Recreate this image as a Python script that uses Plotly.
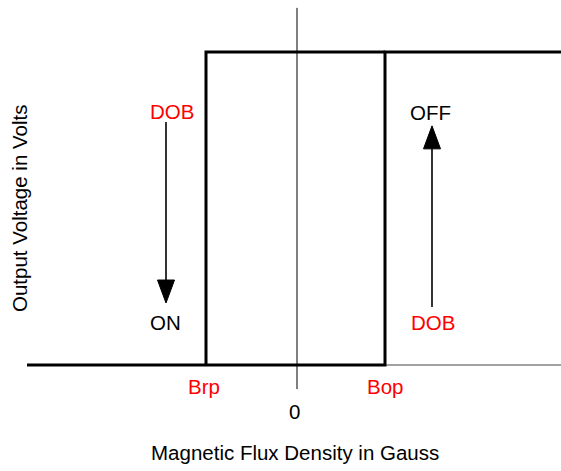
import plotly.graph_objects as go

# Data (x in gauss-like units, y in relative volts)
B_min, B_max = -270, 264
Brp, Bop = -91, 88
V_low, V_high = 0.0, 1.0

loop_x = [B_min, Bop, Bop, B_max, None, Brp, Brp, Bop]
loop_y = [V_low, V_low, V_high, V_high, None, V_low, V_high, V_high]

axis_v_span = [-0.077, 1.141]

# arrows: (x, y_start, y_tip)
arrows = [(-131, 0.776, 0.198), (135, 0.185, 0.764)]

labels = [
    ("DOB", -125, 0.811, "#FF0000"),
    ("ON", -132, 0.137, "#000000"),
    ("OFF", 133, 0.808, "#000000"),
    ("DOB", 135.5, 0.137, "#FF0000"),
    ("Brp", -93.5, -0.070, "#FF0000"),
    ("Bop", 88, -0.070, "#FF0000"),
    ("0", -3, -0.150, "#000000"),
]
x_title = "Magnetic Flux Density in Gauss"
y_title = "Output Voltage in Volts"

W, H = 561, 471
x0_px, y0_px, yscale = 297, 365, 313
x_range = [-x0_px, W - x0_px]
y_range = [(y0_px - H) / yscale, y0_px / yscale]

fig = go.Figure()
FONT = "Liberation Sans, Arial, sans-serif"
FS = 20.5

# thin axes
fig.add_trace(go.Scatter(x=[B_min, B_max], y=[0, 0], mode="lines",
                         line=dict(color="#444444", width=1), hoverinfo="skip"))
fig.add_trace(go.Scatter(x=[0, 0], y=axis_v_span, mode="lines",
                         line=dict(color="#000000", width=1), hoverinfo="skip"))
# hysteresis loop
fig.add_trace(go.Scatter(x=loop_x, y=loop_y, mode="lines",
                         line=dict(color="#000000", width=3), hoverinfo="skip"))

head_len = 23 / yscale
head_half = 8.5
for ax_, ys, yt in arrows:
    d = 1 if yt > ys else -1
    base = yt - d * head_len
    fig.add_trace(go.Scatter(x=[ax_, ax_], y=[ys, base], mode="lines",
                             line=dict(color="#000000", width=1.6), hoverinfo="skip"))
    fig.add_trace(go.Scatter(x=[ax_ - head_half, ax_ + head_half, ax_, ax_ - head_half],
                             y=[base, base, yt, base], mode="lines", fill="toself",
                             fillcolor="#000000", line=dict(color="#000000", width=1),
                             hoverinfo="skip"))

for t, x, y, c in labels:
    fig.add_annotation(x=x, y=y, text=t, showarrow=False, xanchor="center", yanchor="middle",
                       font=dict(family=FONT, size=FS, color=c))

fig.add_annotation(x=-2.5, y=-0.278, text=x_title, showarrow=False, xanchor="center",
                   yanchor="middle", font=dict(family=FONT, size=FS, color="#000000"))
fig.add_annotation(x=19 - x0_px, y=(y0_px - 209) / yscale, text=y_title, showarrow=False,
                   textangle=-90, xanchor="center", yanchor="middle",
                   font=dict(family=FONT, size=FS, color="#000000"))

fig.update_layout(
    width=W, height=H, margin=dict(l=0, r=0, t=0, b=0),
    paper_bgcolor="white", plot_bgcolor="white", showlegend=False,
    xaxis=dict(range=x_range, visible=False, fixedrange=True),
    yaxis=dict(range=y_range, visible=False, fixedrange=True),
)
fig.write_html("out.html", config={"displayModeBar": False},
               post_script="document.body.style.margin='0';document.body.style.overflow='hidden';")
